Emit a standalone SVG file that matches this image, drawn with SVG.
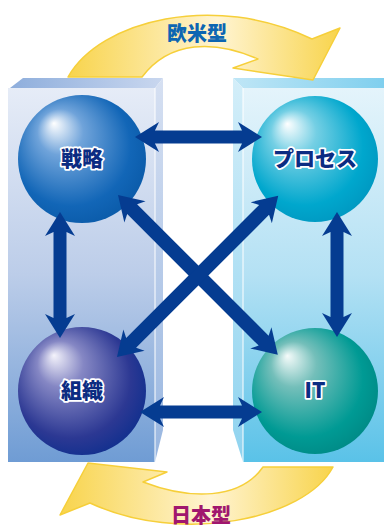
<svg xmlns="http://www.w3.org/2000/svg" width="384" height="528" viewBox="0 0 384 528">
  <defs>
    <linearGradient id="frontL" x1="0" y1="0" x2="0" y2="1">
      <stop offset="0" stop-color="#e6ecf7"/>
      <stop offset="0.5" stop-color="#bccde9"/>
      <stop offset="1" stop-color="#6f9cd4"/>
    </linearGradient>
    <linearGradient id="sideL" x1="0" y1="0" x2="0" y2="1">
      <stop offset="0" stop-color="#d6e0f2"/>
      <stop offset="1" stop-color="#98b6e0"/>
    </linearGradient>
    <linearGradient id="topL" x1="0" y1="0" x2="1" y2="0">
      <stop offset="0" stop-color="#8eaedc"/>
      <stop offset="1" stop-color="#c9d7ef"/>
    </linearGradient>
    <linearGradient id="frontR" x1="0" y1="0" x2="0" y2="1">
      <stop offset="0" stop-color="#e4f4fb"/>
      <stop offset="0.5" stop-color="#b4e1f4"/>
      <stop offset="1" stop-color="#5ac2e8"/>
    </linearGradient>
    <linearGradient id="sideR" x1="0" y1="0" x2="0" y2="1">
      <stop offset="0" stop-color="#d3eef9"/>
      <stop offset="1" stop-color="#8fd3ef"/>
    </linearGradient>
    <linearGradient id="topR" x1="0" y1="0" x2="1" y2="0">
      <stop offset="0" stop-color="#bfe6f6"/>
      <stop offset="1" stop-color="#7fcfee"/>
    </linearGradient>
    <linearGradient id="swoosh" x1="0" y1="0" x2="1" y2="0">
      <stop offset="0" stop-color="#f8d44c"/>
      <stop offset="0.55" stop-color="#fff4d2"/>
      <stop offset="1" stop-color="#f8d44c"/>
    </linearGradient>
    <radialGradient id="gStrategy" cx="0.45" cy="0.45" r="0.6" fx="0.28" fy="0.22">
      <stop offset="0" stop-color="#ffffff"/>
      <stop offset="0.3" stop-color="#6fa3da"/>
      <stop offset="0.78" stop-color="#1266b7"/>
      <stop offset="1" stop-color="#0a5aa8"/>
    </radialGradient>
    <radialGradient id="gProcess" cx="0.45" cy="0.45" r="0.6" fx="0.28" fy="0.22">
      <stop offset="0" stop-color="#ffffff"/>
      <stop offset="0.3" stop-color="#74cfe4"/>
      <stop offset="0.78" stop-color="#00a7cd"/>
      <stop offset="1" stop-color="#0097c0"/>
    </radialGradient>
    <radialGradient id="gOrg" cx="0.45" cy="0.45" r="0.6" fx="0.28" fy="0.22">
      <stop offset="0" stop-color="#f4f3fb"/>
      <stop offset="0.3" stop-color="#8587c4"/>
      <stop offset="0.78" stop-color="#2c3893"/>
      <stop offset="1" stop-color="#0f2f8e"/>
    </radialGradient>
    <radialGradient id="gIT" cx="0.45" cy="0.45" r="0.6" fx="0.28" fy="0.22">
      <stop offset="0" stop-color="#f5fbfa"/>
      <stop offset="0.3" stop-color="#74bfba"/>
      <stop offset="0.78" stop-color="#009a94"/>
      <stop offset="1" stop-color="#008985"/>
    </radialGradient>
  </defs>
  <style>
    .edge { stroke: #ffffff; stroke-width: 1; }
    .swoosh { fill: url(#swoosh); stroke: #f6cf3a; stroke-width: 1.5; stroke-linejoin: round; }
    .arrow { fill: #053c91; }
    .label { font-family: "Noto Sans CJK JP", "Noto Sans", sans-serif; font-weight: 900; font-size: 21px; fill: #0b2c82; stroke: #ffffff; stroke-width: 3.5; paint-order: stroke; stroke-linejoin: round; text-anchor: middle; }
    .kind { font-family: "Noto Sans CJK JP", "Noto Sans", sans-serif; font-weight: 900; font-size: 20px; text-anchor: middle; }
  </style>

  <!-- left block -->
  <g id="block-left">
    <polygon points="10,88 23,78 163,78 155,88" fill="url(#topL)"/>
    <polygon points="155,88 163,78 163,430 155,462" fill="url(#sideL)"/>
    <rect x="8" y="88" width="147" height="374" fill="url(#frontL)"/>
    <line class="edge" x1="155" y1="88" x2="155" y2="462"/>
  </g>

  <!-- right block -->
  <g id="block-right">
    <polygon points="233,78 243,88 384,88 384,78" fill="url(#topR)"/>
    <polygon points="233,78 243,88 243,462 233,430" fill="url(#sideR)"/>
    <rect x="243" y="88" width="141" height="374" fill="url(#frontR)"/>
    <line class="edge" x1="243" y1="88" x2="243" y2="462"/>
  </g>

  <!-- cycle arrows -->
  <g id="western">
    <path class="swoosh" d="M68,77 C100,20 215,-8 312,39 L340,28 L313,80 L233,68 L258,59 C215,40 170,40 142,77 Z"/>
    <text class="kind" x="197" y="41" fill="#0d66b2">欧米型</text>
  </g>
  <g id="japanese">
    <path class="swoosh" d="M333,467 C305,520 180,545 90,503 L60,515 L88,463 L167,472 L143,482 C190,500 240,500 263,467 Z"/>
    <text class="kind" x="201" y="523" fill="#a0176e">日本型</text>
  </g>

  <!-- nodes -->
  <g id="strategy">
    <circle cx="82" cy="159" r="64" fill="url(#gStrategy)"/>
    <text class="label" x="82" y="166">戦略</text>
  </g>
  <g id="process">
    <circle cx="315" cy="159" r="63" fill="url(#gProcess)"/>
    <text class="label" x="315" y="166">プロセス</text>
  </g>
  <g id="organization">
    <circle cx="82" cy="391" r="64" fill="url(#gOrg)"/>
    <text class="label" x="82" y="398">組織</text>
  </g>
  <g id="it">
    <circle cx="315" cy="391" r="63" fill="url(#gIT)"/>
    <text class="label" x="315" y="398" font-family="Liberation Sans, sans-serif">IT</text>
  </g>

  <!-- connectors: double-headed arrows -->
  <g id="connectors" class="arrow">
    <path transform="translate(135,137)" d="M0,0 L24,-15 L20,-6.5 L107,-6.5 L103,-15 L127,0 L103,15 L107,6.5 L20,6.5 L24,15 Z"/>
    <path transform="translate(140,412)" d="M0,0 L24,-15 L20,-6.5 L102,-6.5 L98,-15 L122,0 L98,15 L102,6.5 L20,6.5 L24,15 Z"/>
    <path transform="translate(60,212) rotate(90)" d="M0,0 L24,-15 L20,-6.5 L106,-6.5 L102,-15 L126,0 L102,15 L106,6.5 L20,6.5 L24,15 Z"/>
    <path transform="translate(337,212) rotate(90)" d="M0,0 L24,-15 L20,-6.5 L105,-6.5 L101,-15 L125,0 L101,15 L105,6.5 L20,6.5 L24,15 Z"/>
    <path transform="translate(118,195) rotate(45)" d="M0,0 L24,-15 L20,-7 L206,-7 L202,-15 L226,0 L202,15 L206,7 L20,7 L24,15 Z"/>
    <path transform="translate(117,357) rotate(-45)" d="M0,0 L24,-15 L20,-7 L208,-7 L204,-15 L228,0 L204,15 L208,7 L20,7 L24,15 Z"/>
  </g>
</svg>
